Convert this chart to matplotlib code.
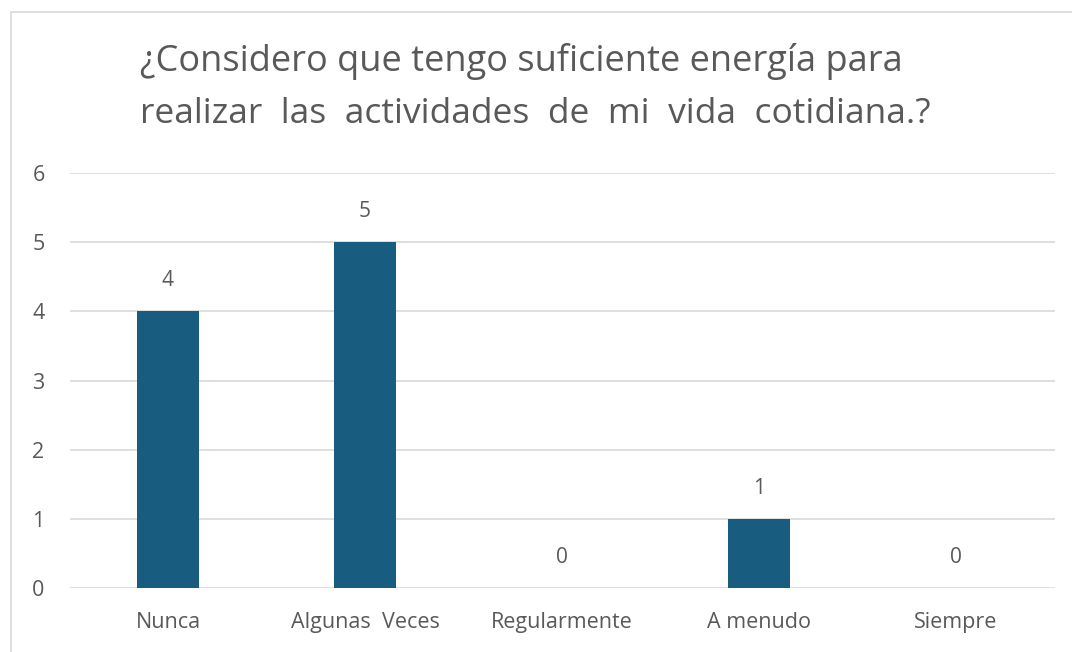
"""Bar chart: energy for daily activities survey responses."""

import matplotlib
matplotlib.use("Agg")
import matplotlib.pyplot as plt
from matplotlib.patches import Rectangle

categories = ["Nunca", "Algunas  Veces", "Regularmente", "A menudo", "Siempre"]
values = [4, 5, 0, 1, 0]
yticks = [0, 1, 2, 3, 4, 5, 6]
title_lines = ["¿Considero que tengo suficiente energía para",
               "realizar  las  actividades  de  mi  vida  cotidiana.?"]

BAR_COLOR = "#185D80"
TEXT_COLOR = "#595959"
GRID_COLOR = "#D9D9D9"

plt.rcParams["font.family"] = ["Open Sans", "DejaVu Sans"]

fig = plt.figure(figsize=(10.72, 6.52), dpi=100)
W, H = 1072, 652

# chart border (light gray frame)
fig.patches.append(Rectangle((11 / W, -0.01), 1.2, 1 - 12 / H + 0.01,
                             transform=fig.transFigure, fill=False,
                             edgecolor="#D9D9D9", linewidth=1.2))

ax = fig.add_axes([69.5 / W, 1 - 588 / H, (1054.5 - 69.5) / W, (588 - 173) / H])

x = range(len(categories))
ax.bar(x, values, width=0.31, color=BAR_COLOR, zorder=3)

for xi, v in zip(x, values):
    ax.annotate(str(v), (xi, v), xytext=(0, 22), textcoords="offset points",
                ha="center", va="center", fontsize=15, color=TEXT_COLOR)

ax.set_xlim(-0.5, len(categories) - 0.5)
ax.set_ylim(0, 6)
ax.set_yticks(yticks)
ax.set_xticks(list(x))
ax.set_xticklabels(categories)
ax.tick_params(axis="both", length=0, labelsize=15.5, colors=TEXT_COLOR)
ax.tick_params(axis="y", pad=18)
ax.tick_params(axis="x", pad=17)

ax.grid(axis="y", color=GRID_COLOR, linewidth=1.2, zorder=0)
for s in ax.spines.values():
    s.set_visible(False)

fig.text(140 / W, 1 - 62 / H, title_lines[0], ha="left", va="center",
         fontsize=26, color=TEXT_COLOR)
fig.text(140 / W, 1 - 114 / H, title_lines[1], ha="left", va="center",
         fontsize=25.5, color=TEXT_COLOR)

fig.savefig("out.png", dpi=100, facecolor="white")
